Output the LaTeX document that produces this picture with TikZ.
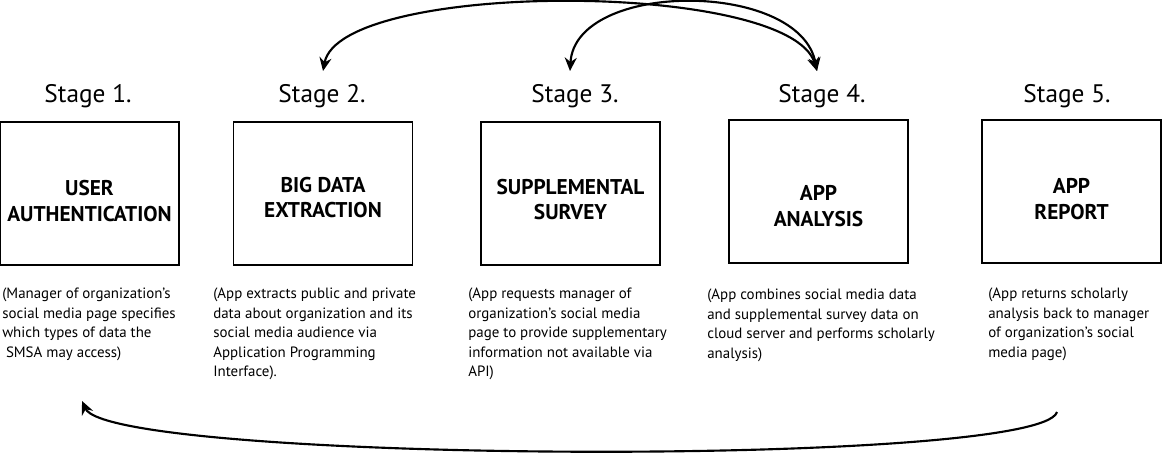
\documentclass[tikz,border=0pt]{standalone}
\usepackage{fontspec}
\setmainfont{PT Sans}
\usetikzlibrary{positioning, arrows.meta}
\tikzset{
  stagebox/.style = {draw, line width=1pt, minimum width=134.25pt, minimum height=107.25pt, inner sep=0pt},
  stagelbl/.style = {font=\fontsize{19}{22}\selectfont, inner sep=0pt},
  boxtitle/.style = {font=\fontsize{16}{19}\selectfont\bfseries, align=center, inner sep=0pt},
  desc/.style     = {font=\fontsize{11.2}{14.6}\selectfont, align=left, anchor=north west, inner sep=0pt},
  arc/.style      = {line width=1.6pt, -{Stealth[length=10pt, width=9pt]}},
  biarc/.style    = {line width=1.6pt, {Stealth[length=10pt, width=9pt]}-{Stealth[length=10pt, width=9pt]}}
}
\begin{document}
\begin{tikzpicture}[x=0.75pt, y=-0.75pt]
  \useasboundingbox (0,0) rectangle (1162,455);
  % stage labels
  \node[stagelbl] (s1) at (88,96)   {Stage 1.};
  \node[stagelbl] (s2) at (322,96)  {Stage 2.};
  \node[stagelbl] (s3) at (575,96)  {Stage 3.};
  \node[stagelbl] (s4) at (822,96)  {Stage 4.};
  \node[stagelbl] (s5) at (1067,96) {Stage 5.};
  % boxes
  \node[stagebox] (b1) at (89.5,193.5) {};
  \node[stagebox] (b2) at (323,193.5)  {};
  \node[stagebox] (b3) at (570.5,193.5) {};
  \node[stagebox] (b4) at (818.5,191.5) {};
  \node[stagebox] (b5) at (1071.5,191.5) {};
  \node[boxtitle] (t1) at (89.5,201)  {USER\\AUTHENTICATION};
  \node[boxtitle] (t2) at (323,197.5) {BIG DATA\\EXTRACTION};
  \node[boxtitle] (t3) at (570.5,199.5) {SUPPLEMENTAL\\SURVEY};
  \node[boxtitle] (t4) at (818.5,206) {APP\\ANALYSIS};
  \node[boxtitle] (t5) at (1071.5,199) {APP\\REPORT};
  % descriptions
  \node[desc] (d1) at (2,288)   {(Manager of organization’s\\social media page specifies\\which types of data the\\\hspace{0.25em}SMSA may access)};
  \node[desc] (d2) at (213,288) {(App extracts public and private\\data about organization and its\\social media audience via\\Application Programming\\Interface).};
  \node[desc] (d3) at (468,288) {(App requests manager of\\organization’s social media\\page to provide supplementary\\information not available via\\API)};
  \node[desc] (d4) at (707,289) {(App combines social media data\\and supplemental survey data on\\cloud server and performs scholarly\\analysis)};
  \node[desc] (d5) at (988,288) {(App returns scholarly\\analysis back to manager\\of organization’s social\\media page)};
  % arrow ends
  \coordinate (a2) at (323,71);
  \coordinate (a3) at (570,71);
  \coordinate (a4) at (817,71);
  \coordinate (r5) at (1057,412);
  \coordinate (r1) at (82,401);
  % connectors
  \draw[biarc] (a2) .. controls +(17,-91) and +(-27,-91) .. (a4);
  \draw[biarc] (a3) .. controls +(5,-91) and +(-17,-91) .. (a4);
  \draw[arc] (r5) .. controls +(-17,56) and +(28,62) .. (r1);
\end{tikzpicture}
\end{document}
